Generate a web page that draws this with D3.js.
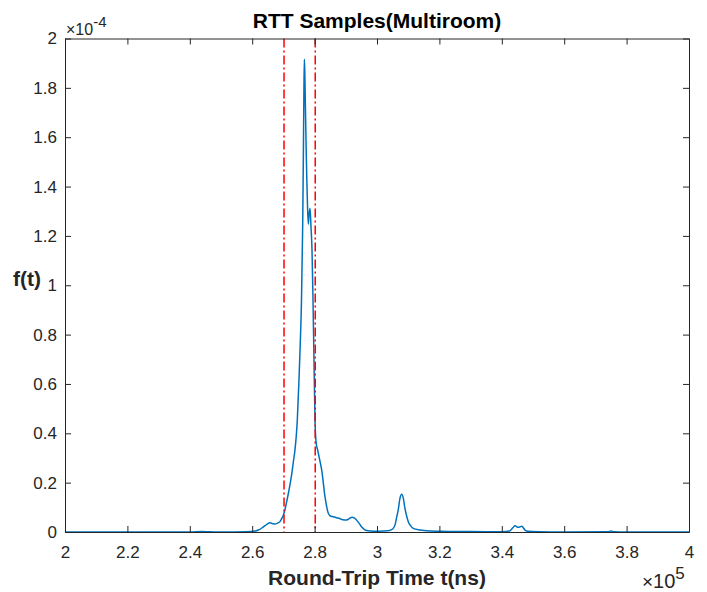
<!DOCTYPE html>
<html>
<head>
<meta charset="utf-8">
<script src="https://cdn.jsdelivr.net/npm/d3@7/dist/d3.min.js"></script>
<style>
  html, body { margin: 0; padding: 0; background: #fff; overflow: hidden; }
  svg { display: block; }
  text { font-family: "Liberation Sans", Arial, sans-serif; fill: #262626; }
</style>
</head>
<body>
<script>
// Tick labels (x in units of 1e5 ns, y in units of 1e-4)
const xTicks = [2, 2.2, 2.4, 2.6, 2.8, 3, 3.2, 3.4, 3.6, 3.8, 4];
const yTicks = [0, 0.2, 0.4, 0.6, 0.8, 1, 1.2, 1.4, 1.6, 1.8, 2];

// Estimated density curve
const rttX = [2.00, 2.40, 2.44, 2.46, 2.50, 2.58, 2.61, 2.62, 2.635, 2.647, 2.657, 2.665, 2.673, 2.681, 2.689,
  2.695, 2.700, 2.705, 2.710, 2.716, 2.722, 2.727, 2.732, 2.737, 2.741, 2.7446, 2.750, 2.755, 2.758, 2.760,
  2.762, 2.7638, 2.7655, 2.767, 2.7685, 2.7702, 2.773, 2.775, 2.7772, 2.7798, 2.7825, 2.7853, 2.7885, 2.7917,
  2.7949, 2.798, 2.8013, 2.805, 2.8099, 2.815, 2.8228, 2.8333, 2.8439, 2.852, 2.860, 2.870, 2.8814, 2.890,
  2.9029, 2.912, 2.920, 2.928, 2.94, 2.951, 2.960, 2.967, 2.98, 3.00, 3.02, 3.04, 3.05, 3.058, 3.063, 3.068,
  3.0737, 3.0792, 3.0843, 3.089, 3.0929, 3.1003, 3.108, 3.1163, 3.1378, 3.17, 3.20, 3.25, 3.30, 3.40, 3.425,
  3.436, 3.4423, 3.4529, 3.4638, 3.4744, 3.484, 3.52, 3.6, 3.74, 3.75, 3.76, 3.8, 4.0];
const density = [0, 0, 0.002, 0.001, 0, 0.001, 0.004, 0.008, 0.02, 0.031, 0.037, 0.034, 0.032, 0.036, 0.042,
  0.055, 0.069, 0.090, 0.120, 0.157, 0.198, 0.238, 0.285, 0.332, 0.385, 0.454, 0.62, 0.80, 0.94, 1.10,
  1.26, 1.50, 1.75, 1.916, 1.87, 1.75, 1.55, 1.43, 1.325, 1.248, 1.29, 1.312, 1.235, 1.143,
  0.94, 0.70, 0.454, 0.36, 0.332, 0.30, 0.251, 0.143, 0.076, 0.064, 0.062, 0.058, 0.054, 0.050,
  0.049, 0.055, 0.06, 0.056, 0.040, 0.020, 0.010, 0.006, 0.004, 0.003, 0.004, 0.006, 0.012, 0.03, 0.06, 0.09,
  0.137, 0.153, 0.137, 0.10, 0.076, 0.042, 0.025, 0.015, 0.008, 0.004, 0.003, 0.002, 0.002, 0.001, 0.004,
  0.018, 0.025, 0.019, 0.023, 0.008, 0.003, 0.001, 0, 0.001, 0.004, 0.001, 0, 0];

// Vertical reference lines
const refLines = [2.702, 2.802];

const width = 707, height = 592;
const margin = { top: 38.5, right: 18, bottom: 60, left: 65 };
const innerWidth = width - margin.left - margin.right;
const innerHeight = height - margin.top - margin.bottom;

const svg = d3.select('body').append('svg')
  .attr('width', width)
  .attr('height', height);

const chart = svg.append('g')
  .attr('transform', `translate(${margin.left}, ${margin.top})`);

const xScale = d3.scaleLinear().domain([2, 4]).range([0, innerWidth]);
const yScale = d3.scaleLinear().domain([0, 2]).range([innerHeight, 0]);

const axisColor = '#262626';
const font = '"Liberation Sans", Arial, sans-serif';

// curve
const pts = rttX.map((x, i) => [x, density[i]]);
const line = d3.line()
  .x(d => xScale(d[0]))
  .y(d => yScale(d[1]))
  .curve(d3.curveMonotoneX);

chart.append('path')
  .datum(pts)
  .attr('d', line)
  .attr('fill', 'none')
  .attr('stroke', '#0072BD')
  .attr('stroke-width', 1.5)
  .attr('stroke-linejoin', 'round');

// red dash-dot lines
chart.selectAll('.ref')
  .data(refLines)
  .enter()
  .append('line')
  .attr('class', 'ref')
  .attr('x1', d => xScale(d))
  .attr('x2', d => xScale(d))
  .attr('y1', 0)
  .attr('y2', innerHeight)
  .attr('stroke', '#FF0000')
  .attr('stroke-width', 1.5)
  .attr('stroke-dasharray', '9,3,2,3');

// axes (ticks inside, box)
const fmt = d => String(+d.toFixed(1));
const tickLen = 6;

chart.append('g')
  .attr('transform', `translate(0, ${innerHeight})`)
  .call(d3.axisBottom(xScale).tickValues(xTicks).tickFormat(fmt).tickSizeInner(-tickLen).tickSizeOuter(0).tickPadding(14))
  .call(g => g.select('.domain').attr('stroke', axisColor))
  .call(g => g.selectAll('line').attr('stroke', axisColor))
  .call(g => g.selectAll('text').style('font-size', '17px').attr('fill', axisColor).style('font-family', font));

chart.append('g')
  .call(d3.axisLeft(yScale).tickValues(yTicks).tickFormat(fmt).tickSizeInner(-tickLen).tickSizeOuter(0).tickPadding(8))
  .call(g => g.select('.domain').attr('stroke', axisColor))
  .call(g => g.selectAll('line').attr('stroke', axisColor))
  .call(g => g.selectAll('text').style('font-size', '17px').attr('fill', axisColor).style('font-family', font));

chart.append('g')
  .call(d3.axisTop(xScale).tickValues(xTicks).tickFormat('').tickSizeInner(-tickLen).tickSizeOuter(0))
  .call(g => g.select('.domain').attr('stroke', axisColor))
  .call(g => g.selectAll('line').attr('stroke', axisColor));

chart.append('g')
  .attr('transform', `translate(${innerWidth}, 0)`)
  .call(d3.axisRight(yScale).tickValues(yTicks).tickFormat('').tickSizeInner(-tickLen).tickSizeOuter(0))
  .call(g => g.select('.domain').attr('stroke', axisColor))
  .call(g => g.selectAll('line').attr('stroke', axisColor));

// title and labels
svg.append('text')
  .attr('x', margin.left + innerWidth / 2)
  .attr('y', 28)
  .attr('text-anchor', 'middle')
  .style('font-size', '21px')
  .style('font-weight', 'bold')
  .style('fill', '#000')
  .text('RTT Samples(Multiroom)');

svg.append('text')
  .attr('x', margin.left + innerWidth / 2)
  .attr('y', 585)
  .attr('text-anchor', 'middle')
  .style('font-size', '21px')
  .style('font-weight', 'bold')
  .text('Round-Trip Time t(ns)');

svg.append('text')
  .attr('x', 27)
  .attr('y', 286)
  .attr('text-anchor', 'middle')
  .style('font-size', '21px')
  .style('font-weight', 'bold')
  .text('f(t)');

// exponent labels
const expTop = svg.append('text')
  .attr('x', 66)
  .attr('y', 35)
  .style('font-size', '16px');
expTop.append('tspan').text('\u00d7').style('font-size', '16px');
expTop.append('tspan').text('10');
expTop.append('tspan').attr('dy', -8).style('font-size', '15px').text('-4');

const expBot = svg.append('text')
  .attr('x', 642)
  .attr('y', 588)
  .style('font-size', '20px');
expBot.append('tspan').text('\u00d7').style('font-size', '19px');
expBot.append('tspan').text('10');
expBot.append('tspan').attr('dy', -9).style('font-size', '17px').text('5');
</script>
</body>
</html>
